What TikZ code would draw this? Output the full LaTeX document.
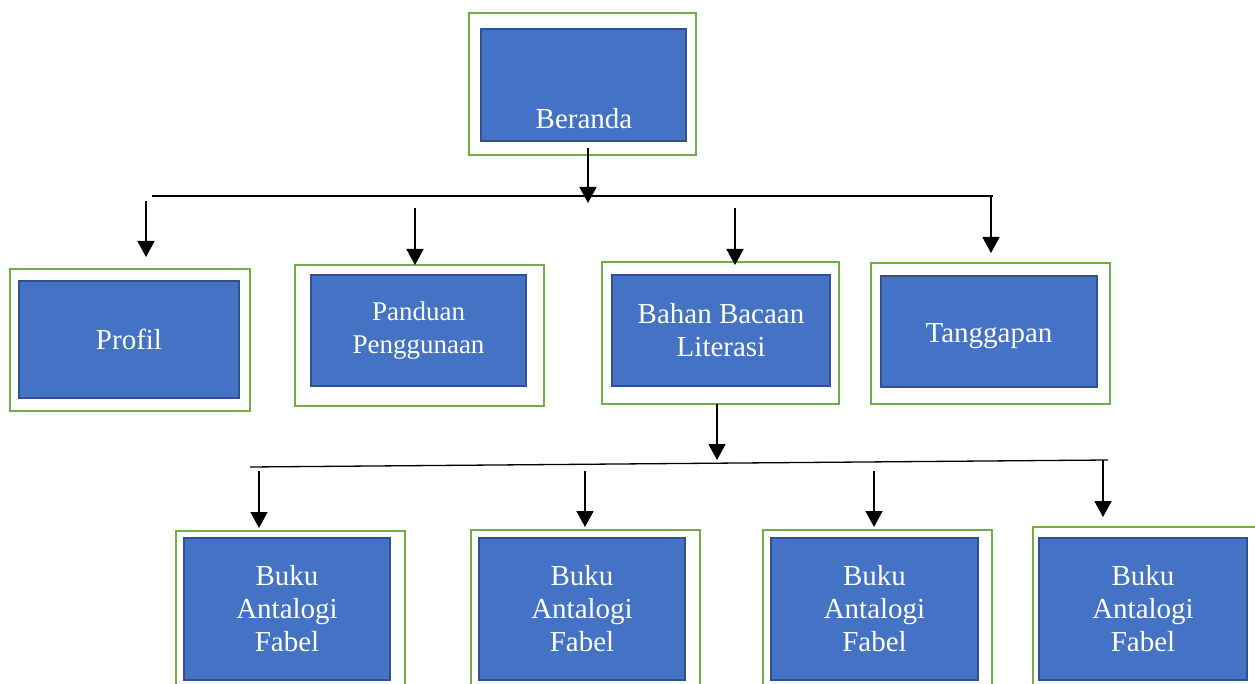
\documentclass[tikz,border=0pt]{standalone}
\usepackage{fontspec}
\setmainfont{Liberation Serif}
\usetikzlibrary{arrows.meta,positioning}
\definecolor{boxblue}{RGB}{68,114,196}
\definecolor{boxedge}{RGB}{47,82,143}
\definecolor{framegreen}{RGB}{112,173,71}

\begin{document}
\begin{tikzpicture}[x=1pt,y=-1pt,
  frame/.style={draw=framegreen,line width=2.4pt,inner sep=0pt},
  page/.style={draw=boxedge,fill=boxblue,line width=2pt,inner sep=0pt,align=center,text=white,font=\fontsize{29}{33}\selectfont},
  arr/.style={-{Triangle[width=17pt,length=16pt]},line width=1.8pt},
  bus/.style={line width=1.3pt}
]
\useasboundingbox (0,0) rectangle (1255,684);
\clip (0,0) rectangle (1255,684);
% top level
\node[frame,minimum width=227pt,minimum height=142pt] (berandaF) at (582.5,84) {};
\node[page,minimum width=205pt,minimum height=112pt] (beranda) at (583.5,85) {};
\node[text=white,font=\fontsize{29}{33}\selectfont] (berandaT) at (584,119) {Beranda};
% menu
\node[frame,minimum width=240pt,minimum height=142pt] (profilF) at (130,340) {};
\node[page,minimum width=220pt,minimum height=117pt] (profil) at (129,339.5) {Profil};
\node[frame,minimum width=249pt,minimum height=141pt] (panduanF) at (419.5,335.5) {};
\node[page,minimum width=215pt,minimum height=111pt,font=\fontsize{27}{33}\selectfont] (panduan) at (418.5,330.5) {Panduan\\Penggunaan};
\node[frame,minimum width=237pt,minimum height=142pt] (bahanF) at (720.5,333) {};
\node[page,minimum width=218pt,minimum height=111pt] (bahan) at (721,330.5) {Bahan Bacaan\\Literasi};
\node[frame,minimum width=239pt,minimum height=141pt] (tanggapanF) at (990.5,333.5) {};
\node[page,minimum width=216pt,minimum height=111pt,text height=28pt,text depth=6pt] (tanggapan) at (989,331.5) {Tanggapan};
% buku
\node[frame,minimum width=229pt,minimum height=170pt] (buku1F) at (290.5,616) {};
\node[page,minimum width=206pt,minimum height=142pt] (buku1) at (287,609) {Buku\\Antalogi\\Fabel};
\node[frame,minimum width=229pt,minimum height=170pt] (buku2F) at (585.5,615) {};
\node[page,minimum width=206pt,minimum height=142pt] (buku2) at (582,609) {Buku\\Antalogi\\Fabel};
\node[frame,minimum width=229pt,minimum height=170pt] (buku3F) at (877.5,615) {};
\node[page,minimum width=207pt,minimum height=142pt] (buku3) at (874.5,609) {Buku\\Antalogi\\Fabel};
\node[frame,minimum width=232pt,minimum height=173pt] (buku4F) at (1149,613.5) {};
\node[page,minimum width=208pt,minimum height=142pt] (buku4) at (1143,609) {Buku\\Antalogi\\Fabel};
% connectors
\coordinate (b0) at (588,148);
\coordinate (b1) at (588,203);
\coordinate (busL) at (152,196);
\coordinate (busR) at (993,196);
\draw[bus] (busL) -- (busR);
\draw[arr] (b0) -- (b1);
\coordinate (p0) at (146,201);
\coordinate (p1) at (146,257);
\coordinate (g0) at (415,208);
\coordinate (g1) at (415,265);
\coordinate (l0) at (735,208);
\coordinate (l1) at (735,265);
\coordinate (t0) at (991,197);
\coordinate (t1) at (991,253);
\draw[arr] (p0) -- (p1);
\draw[arr] (g0) -- (g1);
\draw[arr] (l0) -- (l1);
\draw[arr] (t0) -- (t1);
\coordinate (c0) at (717,404);
\coordinate (c1) at (717,460);
\coordinate (bus2L) at (250,467);
\coordinate (bus2R) at (1108,460);
\draw[bus] (bus2L) -- (bus2R);
\draw[arr] (c0) -- (c1);
\coordinate (k10) at (259,471);
\coordinate (k11) at (259,528);
\coordinate (k20) at (585,471);
\coordinate (k21) at (585,527);
\coordinate (k30) at (874,471);
\coordinate (k31) at (874,527);
\coordinate (k40) at (1103,460);
\coordinate (k41) at (1103,517);
\draw[arr] (k10) -- (k11);
\draw[arr] (k20) -- (k21);
\draw[arr] (k30) -- (k31);
\draw[arr] (k40) -- (k41);
\end{tikzpicture}
\end{document}
